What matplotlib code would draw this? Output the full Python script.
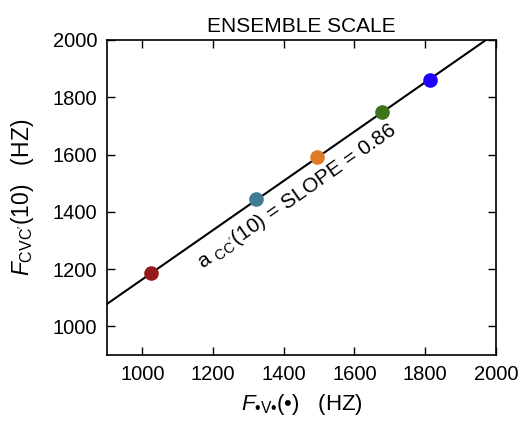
import numpy as np
import matplotlib
matplotlib.use("Agg")
import matplotlib.pyplot as plt

plt.rcParams["font.family"] = ["Liberation Sans", "DejaVu Sans"]
plt.rcParams["mathtext.fontset"] = "custom"
plt.rcParams["mathtext.rm"] = "Liberation Sans"
plt.rcParams["mathtext.it"] = "Liberation Sans:italic"
plt.rcParams["mathtext.bf"] = "Liberation Sans:bold"

# data
x_vals = [1024, 1321, 1494, 1678, 1813]
y_vals = [1186, 1445, 1592, 1747, 1862]
colors = ["#961a1a", "#407c93", "#e07a27", "#3d7419", "#2200ff"]
slope = 0.86
intercept = 304
ticks = [1000, 1200, 1400, 1600, 1800, 2000]

fig = plt.figure(figsize=(5.23, 4.21), dpi=100)
ax = fig.add_axes([0.2046, 0.157, 0.7434, 0.748])

xx = np.array([900, 2000])
ax.plot(xx, slope * xx + intercept, color="black", lw=1.5, zorder=1)
for x, y, c in zip(x_vals, y_vals, colors):
    ax.plot(x, y, "o", color=c, ms=9.5, zorder=2)

ax.set_xlim(900, 2000)
ax.set_ylim(900, 2000)
ax.set_xticks(ticks)
ax.set_yticks(ticks)
ax.tick_params(direction="in", top=True, right=True, length=6, width=1,
               labelsize=14.5, pad=7)
for s in ax.spines.values():
    s.set_linewidth(1.2)

ax.set_title("ENSEMBLE SCALE", fontsize=15, pad=6)
ax.set_xlabel("$F_{\\mathrm{\u2022V\u2022}}$(\u2022)   (HZ)", fontsize=16, labelpad=6)
ax.set_ylabel(r"$F_{\rm CVC'}$(10)   (HZ)", fontsize=16.5, labelpad=12)

ax.text(1437, 1452, r"a $_{\rm CC'}$(10) = SLOPE = 0.86", fontsize=15,
        rotation=35, rotation_mode="anchor", ha="center", va="center")

fig.savefig("out.png", dpi=100)
